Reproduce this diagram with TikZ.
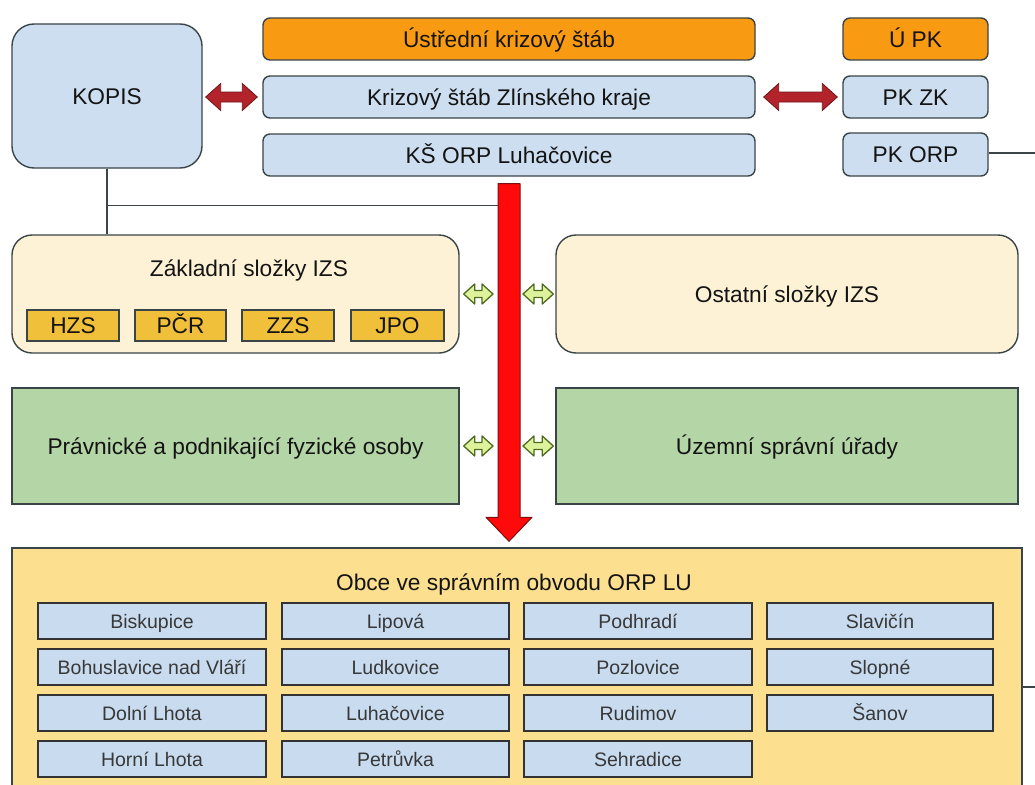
\documentclass[tikz,border=0pt]{standalone}
\usepackage{fontspec}
\setmainfont{Liberation Sans}
\usetikzlibrary{calc}
\definecolor{bordc}{HTML}{3B4548}
\definecolor{txtc}{HTML}{141414}
\definecolor{lblue}{HTML}{CDDEF0}
\definecolor{orng}{HTML}{F89A12}
\definecolor{cream}{HTML}{FDF2D5}
\definecolor{gold}{HTML}{F0C03A}
\definecolor{grn}{HTML}{B4D5A5}
\definecolor{obcef}{HTML}{FDDF90}
\definecolor{townf}{HTML}{C8DBEF}
\definecolor{bigred}{HTML}{FF0A0A}
\definecolor{bigredo}{HTML}{7A1010}
\definecolor{dred}{HTML}{B3232B}
\definecolor{dredo}{HTML}{6E1518}
\definecolor{garf}{HTML}{DDF29A}
\definecolor{garo}{HTML}{4F6B1E}
\newcommand{\boxat}[7]{%
  \node[#2, minimum width={#5pt-#3pt}, minimum height={#6pt-#4pt}] (#1) at ({(#3+#5)/2},{(#4+#6)/2}) {#7};}
\newcommand{\dbarrow}[6]{%
  \path[#1] let \p1=#2, \p2=#3 in
   (\x1,\y1) -- (\x1+#6,\y1+#5) -- (\x1+#6,\y1+#4) -- (\x2-#6,\y2+#4) -- (\x2-#6,\y2+#5)
   -- (\x2,\y2) -- (\x2-#6,\y2-#5) -- (\x2-#6,\y2-#4) -- (\x1+#6,\y1-#4) -- (\x1+#6,\y1-#5) -- cycle;}
\tikzset{
  base/.style={draw=bordc, line width=1.4pt, inner sep=0pt, align=center, text=txtc,
    font=\fontsize{22.7}{26}\selectfont, text height=16.2pt, text depth=0pt},
  bluebox/.style={base, fill=lblue, rounded corners=7pt},
  orbox/.style={base, fill=orng, rounded corners=7pt},
  kopisbox/.style={base, fill=lblue, rounded corners=22pt},
  creambox/.style={base, fill=cream, rounded corners=20pt},
  goldbox/.style={base, fill=gold, line width=1.6pt},
  greenbox/.style={base, fill=grn},
  obcebox/.style={base, fill=obcef},
  townbox/.style={base, fill=townf, line width=2pt, draw=black!80, text=black!78,
    font=\fontsize{19.5}{23}\selectfont, text height=14pt, text depth=0pt},
  title/.style={inner sep=0pt, text=txtc, font=\fontsize{22.7}{26}\selectfont,
    text height=16.2pt, text depth=0pt},
  conn/.style={draw=bordc, line width=1.4pt},
  redarr/.style={fill=dred, draw=dredo, line width=0.8pt},
  greenarr/.style={fill=garf, draw=garo, line width=1.3pt, line join=round},
  bigarr/.style={fill=bigred, draw=bigredo, line width=1pt, line join=round}
}
\begin{document}
\begin{tikzpicture}[x=1pt, y=-1pt]
\useasboundingbox[fill=white] (0,0) rectangle (1035,784);
% top row
\boxat{kopis}{kopisbox}{12}{24}{202}{168}{KOPIS}
\boxat{ust}{orbox}{263}{18}{755}{60}{Ústřední krizový štáb}
\boxat{kszk}{bluebox}{263}{76}{755}{118}{Krizový štáb Zlínského kraje}
\boxat{ksorp}{bluebox}{263}{134}{755}{176}{KŠ ORP Luhačovice}
\boxat{upk}{orbox}{843}{18}{988}{60}{Ú PK}
\boxat{pkzk}{bluebox}{843}{76}{988}{118}{PK ZK}
\boxat{pkorp}{bluebox}{843}{133}{988}{176}{PK ORP}
% IZS
\boxat{zakl}{creambox}{12}{235}{459}{353}{}
\node[title] (zaklt) at (249,268) {Základní složky IZS};
\boxat{hzs}{goldbox}{27}{310}{119}{341}{HZS}
\boxat{pcr}{goldbox}{135}{310}{226}{341}{PČR}
\boxat{zzs}{goldbox}{242}{310}{334}{341}{ZZS}
\boxat{jpo}{goldbox}{351}{310}{444}{341}{JPO}
\boxat{ost}{creambox}{556}{235}{1018}{353}{Ostatní složky IZS}
% green
\boxat{prav}{greenbox}{12}{388}{459}{504}{Právnické a podnikající fyzické osoby}
\boxat{uzem}{greenbox}{556}{388}{1018}{504}{Územní správní úřady}
% obce
\boxat{obce}{obcebox}{12}{548}{1022}{800}{}
\node[title] (obcet) at (514,582) {Obce ve správním obvodu ORP LU};
\boxat{t11}{townbox}{38}{603}{266}{639}{Biskupice}
\boxat{t12}{townbox}{38}{649}{266}{685}{Bohuslavice nad Vláří}
\boxat{t13}{townbox}{38}{695}{266}{731}{Dolní Lhota}
\boxat{t14}{townbox}{38}{741}{266}{777}{Horní Lhota}
\boxat{t21}{townbox}{282}{603}{509}{639}{Lipová}
\boxat{t22}{townbox}{282}{649}{509}{685}{Ludkovice}
\boxat{t23}{townbox}{282}{695}{509}{731}{Luhačovice}
\boxat{t24}{townbox}{282}{741}{509}{777}{Petrůvka}
\boxat{t31}{townbox}{524}{603}{752}{639}{Podhradí}
\boxat{t32}{townbox}{524}{649}{752}{685}{Pozlovice}
\boxat{t33}{townbox}{524}{695}{752}{731}{Rudimov}
\boxat{t34}{townbox}{524}{741}{752}{777}{Sehradice}
\boxat{t41}{townbox}{767}{603}{993}{639}{Slavičín}
\boxat{t42}{townbox}{767}{649}{993}{685}{Slopné}
\boxat{t43}{townbox}{767}{695}{993}{731}{Šanov}
% connectors
\coordinate (rtop) at ($(ksorp.south)+(0,7)$);
\coordinate (rtip) at ($(rtop |- obce.north)+(0,-6)$);
\coordinate (hj) at ($(kopis.south)+(0,37)$);
\coordinate (edge1) at (1040,153);
\coordinate (edge2) at (1040,687);
\draw[conn] (kopis.south) -- (kopis.south |- zakl.north);
\draw[conn] (hj) -- ($(hj -| rtop)+(-11,0)$);
\draw[conn] (edge1 -| pkorp.east) -- (edge1);
\draw[conn] (edge2 -| obce.east) -- (edge2);
% big red arrow
\path[bigarr] let \p1=(rtop), \p2=(rtip) in
  (\x1-11pt,\y1) -- (\x1+11pt,\y1) -- (\x1+11pt,\y2+24pt) -- (\x1+23pt,\y2+24pt)
  -- (\x2,\y2) -- (\x1-23pt,\y2+24pt) -- (\x1-11pt,\y2+24pt) -- cycle;
% red double arrows
\dbarrow{redarr}{($(kopis.east |- kszk.west)+(3,0)$)}{($(kszk.west)+(-5,0)$)}{5pt}{13.5pt}{15pt}
\dbarrow{redarr}{($(kszk.east)+(8,0)$)}{($(pkzk.west)+(-5,0)$)}{5pt}{13.5pt}{15pt}
% green double arrows
\dbarrow{greenarr}{($(zakl.east)+(4,0)$)}{($(rtop |- zakl.east)+(-16,0)$)}{3.5pt}{10pt}{11pt}
\dbarrow{greenarr}{($(rtop |- ost.west)+(14,0)$)}{($(ost.west)+(-2,0)$)}{3.5pt}{10pt}{11pt}
\dbarrow{greenarr}{($(prav.east)+(4,0)$)}{($(rtop |- prav.east)+(-16,0)$)}{3.5pt}{10pt}{11pt}
\dbarrow{greenarr}{($(rtop |- uzem.west)+(14,0)$)}{($(uzem.west)+(-2,0)$)}{3.5pt}{10pt}{11pt}
\end{tikzpicture}
\end{document}
